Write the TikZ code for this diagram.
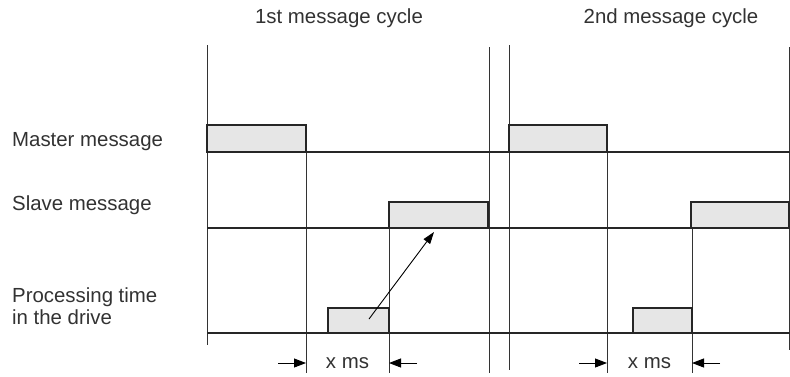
\documentclass[tikz,border=0pt]{standalone}
\usepackage{fontspec}
\setmainfont{Liberation Sans}
\usetikzlibrary{arrows.meta, calc}
\definecolor{msgfill}{RGB}{230,230,230}
\definecolor{msgtext}{RGB}{50,50,50}

\begin{document}
\begin{tikzpicture}[x=1pt, y=-1pt,
  base/.style={line width=1.6pt, draw=black!85},
  cycleline/.style={line width=0.8pt, draw=black!80},
  msg/.style={base, fill=msgfill},
  lbl/.style={font=\fontsize{20.4}{22}\selectfont, text=msgtext, inner sep=0pt},
  dim/.style={line width=0.9pt, -{Triangle[length=12pt,width=9pt]}}]
 \useasboundingbox (0,0) rectangle (790,376);
 % vertical cycle lines
 \foreach \x/\a/\b in {207/45/345, 306/125/373, 389/202/373, 489/47/373, 509/45/370, 607/125/373, 692/202/373, 789/47/350}
   \draw[cycleline] (\x,\a) -- (\x,\b);
 % messages
 \draw[msg] (207,125) rectangle (306,152);
 \draw[msg] (509,125) rectangle (607,152);
 \draw[msg] (389,202) rectangle (488,228);
 \draw[msg] (691,202) rectangle (789,228);
 \draw[msg] (328,308) rectangle (389,333);
 \draw[msg] (633,308) rectangle (692,333);
 % time lines
 \foreach \y in {152, 228, 333}
   \draw[base] (207,\y) -- (790,\y);
 % labels
 \node[lbl, anchor=base] (c1) at (339,23) {1st message cycle};
 \node[lbl, anchor=base] (c2) at (671,23) {2nd message cycle};
 \node[lbl, anchor=base west] (mm) at (12,146) {Master message};
 \node[lbl, anchor=base west] (sm) at (12,210) {Slave message};
 \node[lbl, anchor=north west, align=left] (pt) at (12,287.2) {Processing time\\in the drive};
 % processing -> slave
 \coordinate (p1) at (369,319);
 \coordinate (s1) at (434,232);
 \draw[line width=0.9pt, -{Triangle[length=12pt,width=8pt]}] (p1) -- (s1);
 % x ms
 \foreach \n/\l/\r in {1/306/389, 2/607/692} {
   \coordinate (l\n) at (\l,363);
   \coordinate (r\n) at (\r,363);
   \draw[dim] ([xshift=-28pt]l\n) -- (l\n);
   \draw[dim] ([xshift=28pt]r\n) -- (r\n);
   \node[lbl, anchor=base] (xms\n) at ([yshift=-5pt]$(l\n)!0.5!(r\n)$) {x ms};
 }
\end{tikzpicture}
\end{document}
